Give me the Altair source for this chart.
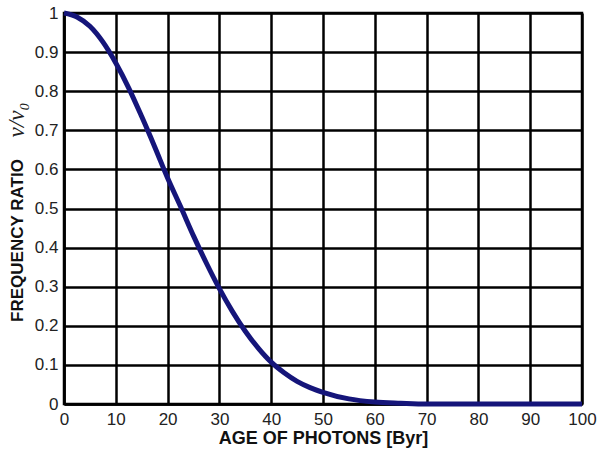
import altair as alt
import pandas as pd

# Data
age = [0, 2.5, 5, 7.5, 10, 12.5, 15, 17.5, 20, 22.5, 25, 27.5, 30, 32.5, 35,
       37.5, 40, 42.5, 45, 47.5, 50, 55, 60, 65, 70, 75, 80, 90, 100]
ratio = [1.0, 0.99, 0.966, 0.926, 0.872, 0.808, 0.735, 0.658, 0.578, 0.505,
         0.43, 0.36, 0.295, 0.237, 0.186, 0.143, 0.107, 0.08, 0.058, 0.042,
         0.03, 0.013, 0.005, 0.002, 0.0, 0.0, 0.0, 0.0, 0.0]
x_ticks = [0, 10, 20, 30, 40, 50, 60, 70, 80, 90, 100]
y_ticks = [0, 0.1, 0.2, 0.3, 0.4, 0.5, 0.6, 0.7, 0.8, 0.9, 1.0]

df = pd.DataFrame({"age": age, "ratio": ratio})

W, H = 518, 391

line = alt.Chart(df).mark_line(
    color="#15157a", strokeWidth=5, interpolate="monotone", clip=False
).encode(
    x=alt.X("age:Q",
            scale=alt.Scale(domain=[0, 100], nice=False),
            axis=alt.Axis(values=x_ticks, title="AGE OF PHOTONS [Byr]",
                          titleFontSize=18, titleX=W / 2, titleY=34,
                          titleBaseline="middle", titleAlign="center")),
    y=alt.Y("ratio:Q",
            scale=alt.Scale(domain=[0, 1], nice=False),
            axis=alt.Axis(values=y_ticks, format=".1~f", title="FREQUENCY RATIO",
                          titleFontSize=17, titleX=-47, titleY=227,
                          titleAngle=-90, titleBaseline="middle",
                          titleAlign="center")),
)

nu = alt.Chart(pd.DataFrame({"t": ["ν/ν₀"]})).mark_text(
    angle=270, font="Liberation Serif", fontStyle="italic", fontSize=23,
    color="#222222", align="center", baseline="middle"
).encode(
    x=alt.value(-47), y=alt.value(107), text="t:N"
)

chart = alt.layer(line, nu).properties(
    width=W, height=H,
    autosize=alt.AutoSizeParams(type="none"),
    padding={"left": 64, "top": 13, "right": 18, "bottom": 49},
    background="white",
).configure_view(
    stroke="black", strokeWidth=2.5
).configure_axis(
    grid=True, gridColor="black", gridWidth=2.5, gridOpacity=1,
    domain=True, domainColor="black", domainWidth=2.5,
    ticks=False, labelFont="Liberation Sans", labelFontSize=17,
    labelColor="#222222", titleFont="Liberation Sans", titleFontWeight="bold",
    titleColor="#111111", labelFlush=False,
).configure_axisX(
    labelPadding=7
).configure_axisY(
    labelPadding=6
)

chart.save("out.html", embed_options={"renderer": "svg", "actions": False})
